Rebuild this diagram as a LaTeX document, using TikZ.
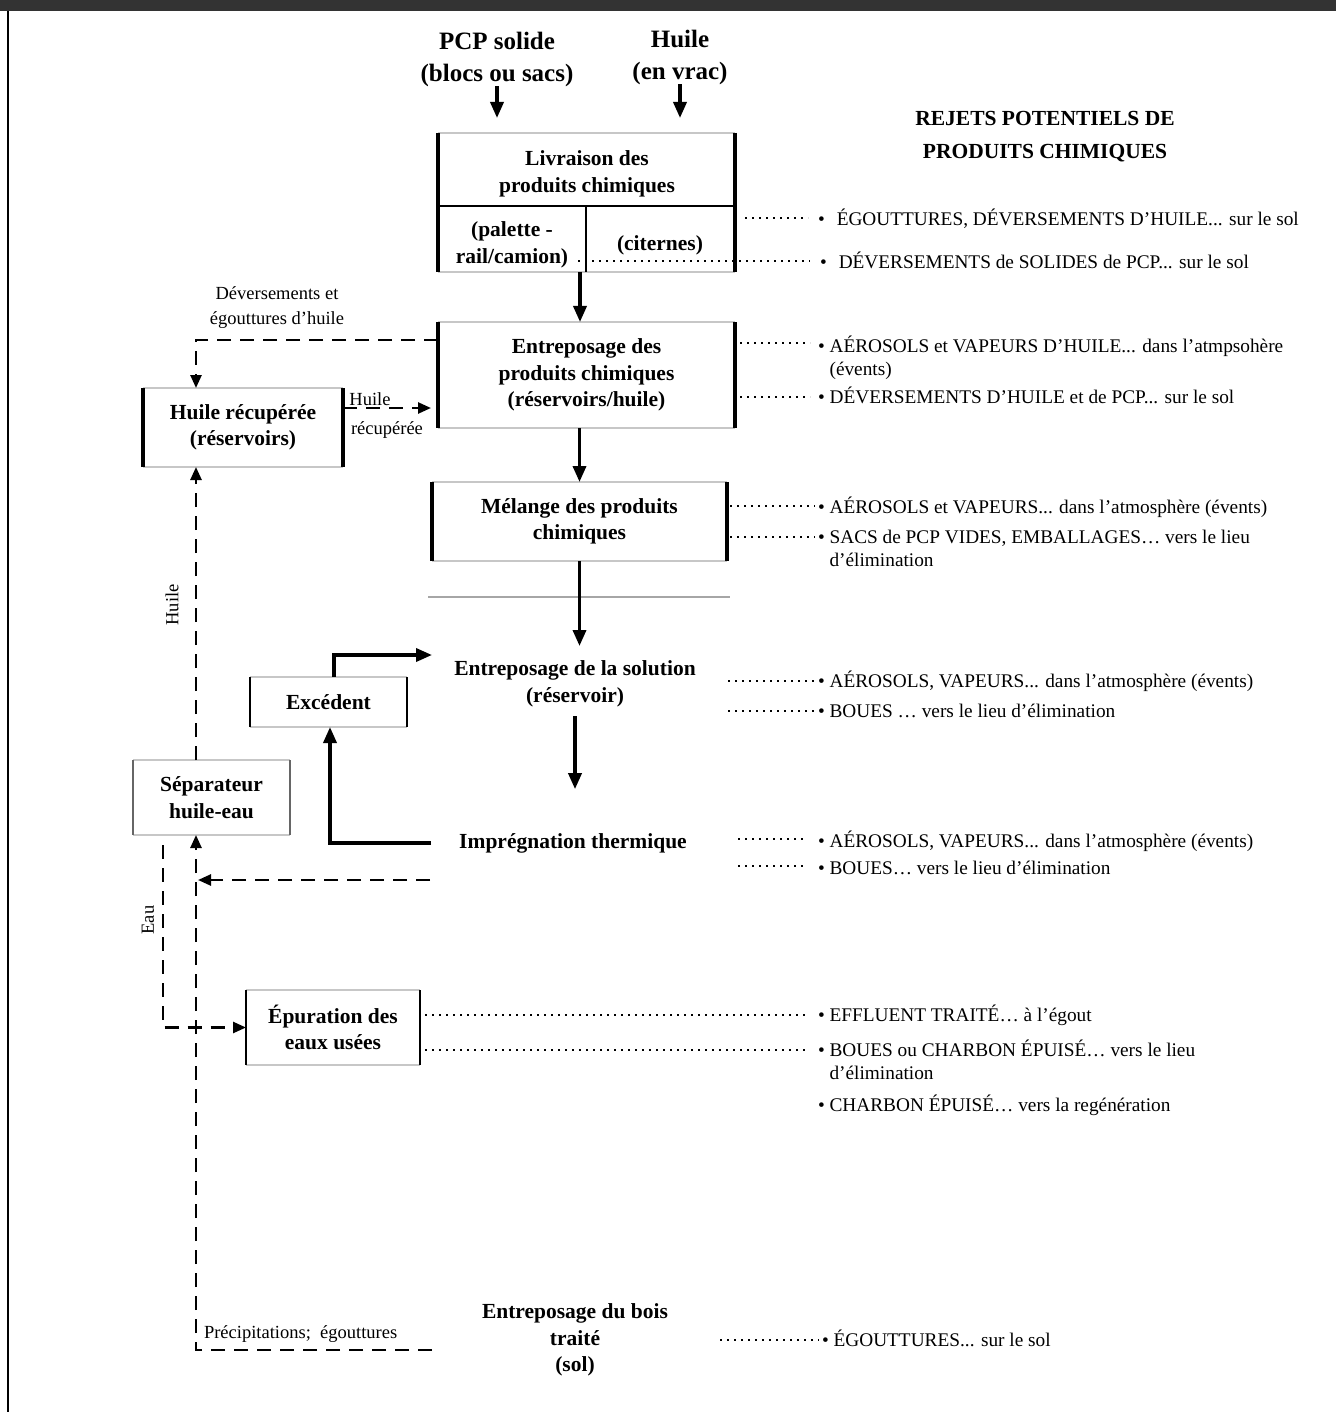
\documentclass[tikz,border=0pt]{standalone}
\usepackage{fontspec}
\setmainfont{Liberation Serif}
\usetikzlibrary{arrows.meta}

% sides of a process box: light top/bottom rules, heavier left/right rules
\newcommand\panelsides[4]{%
  \draw[line width=1.2pt, draw=black!22] (#1.north west) -- (#1.north east) (#1.south west) -- (#1.south east);
  \draw[line width=#2, draw=#4] (#1.north west) -- (#1.south west);
  \draw[line width=#3, draw=#4] (#1.north east) -- (#1.south east);}

% one release item with its dotted leader
% #1 name, #2 leader start x, #3 leader y, #4 gap before bullet, #5 bullet x, #6 baseline y, #7 text
\newcommand\release[7]{%
  \node[item] (#1) at (#5,#6) {#7};
  \coordinate (#1s) at (#2,#3);
  \draw[dots, shorten >=#4] (#1s) -- (#1s -| #1.west);}

\newcommand\twolines[2]{\begin{tabular}[t]{@{}l@{}}#1\\#2\end{tabular}}

\begin{document}
\begin{tikzpicture}[x=1pt,y=-1pt,
  every node/.style={inner sep=0pt, outer sep=0pt},
  panel/.style 2 args={minimum width=#1, minimum height=#2},
  boxtext/.style={font=\fontsize{21.5}{26.5}\selectfont\bfseries, align=center},
  headtext/.style={font=\fontsize{25}{32}\selectfont\bfseries, align=center},
  item/.style={anchor=base west, font=\fontsize{19.3}{23}\selectfont},
  note/.style={font=\fontsize{18.5}{25}\selectfont, align=center},
  flow/.style={line width=3.5pt, -{Triangle[length=16pt,width=13pt]}},
  dflow/.style={line width=2.5pt, dash pattern=on 14pt off 9pt, -{Triangle[length=13pt,width=11pt]}},
  dots/.style={line width=2.4pt, dash pattern=on 2pt off 5pt},
]
\useasboundingbox (0,0) rectangle (1336,1412);
\fill[black!80] (0,0) rectangle (1336,11);
\draw[line width=1.5pt] (8,11) -- (8,1412);

% inputs and heading
\node[headtext] (pcp) at (497,59) {PCP solide\\(blocs ou sacs)};
\node[headtext] (oil) at (680,57) {Huile\\(en vrac)};
\node[font=\fontsize{21.5}{33}\selectfont\bfseries, align=center] (rejets) at (1045,137) {REJETS POTENTIELS DE\\PRODUITS CHIMIQUES};

% delivery box
\node[panel={297}{139}] (liv) at (586.5,202.5) {};
\node[boxtext] (livT) at (587,174) {Livraison des\\produits chimiques};
\node[boxtext] (livA) at (512,245) {(palette -\\rail/camion)};
\node[boxtext] (livB) at (660,245) {(citernes)};
\panelsides{liv}{4pt}{4pt}{black}
\coordinate (livsep) at (586,206);
\draw[line width=2pt] (liv.west |- livsep) -- (liv.east |- livsep);
\draw[line width=1.5pt] (livsep) -- (livsep |- liv.south);

% process boxes
\node[panel={297}{106}, boxtext] (ent) at (586.5,375) {Entreposage des\\produits chimiques\\(réservoirs/huile)};
\node[panel={295}{79}, boxtext] (mel) at (579.5,521.5) {Mélange des produits\\chimiques};
\node[panel={200}{79}, boxtext] (hr) at (243,427.5) {Huile récupérée\\(réservoirs)};
\node[panel={157}{50}, boxtext] (exc) at (328.5,702) {Excédent};
\node[panel={157}{75}, boxtext] (sep) at (211.5,797.5) {Séparateur\\huile-eau};
\node[panel={174}{75}, boxtext] (epu) at (333,1027.5) {Épuration des\\eaux usées};
\panelsides{ent}{4pt}{4pt}{black}
\panelsides{mel}{4pt}{4pt}{black}
\panelsides{hr}{4pt}{4pt}{black}
\panelsides{exc}{1.5pt}{2.5pt}{black}
\panelsides{sep}{1.5pt}{1.5pt}{black!60}
\panelsides{epu}{1.8pt}{1.8pt}{black}

% unboxed stages
\node[boxtext] (sol) at (575,684) {Entreposage de la solution\\(réservoir)};
\node[boxtext] (imp) at (573,843) {Imprégnation thermique};
\node[boxtext] (bois) at (575,1340) {Entreposage du bois\\traité\\(sol)};

\draw[black!35, line width=1.2pt] (428,597) -- (730,597);

% main flow
\draw[flow, shorten >=15pt] (pcp.south) -- (pcp.south |- liv.north);
\draw[flow, shorten >=15pt] (oil.south) -- (oil.south |- liv.north);
\draw[flow] ([xshift=-6.5pt]liv.south) -- ([xshift=-6.5pt]ent.north);
\draw[flow] (ent.south -| mel.north) -- (mel.north);
\draw[flow, shorten >=15pt] (mel.south) -- (mel.south |- sol.north);
\draw[flow, shorten <=9pt, shorten >=44pt] (sol.south) -- (sol.south |- imp.north);

% surplus loop
\coordinate (excin) at (432,655);
\draw[flow] ([xshift=5.5pt]exc.north) |- (excin);
\draw[flow] ([xshift=-28pt]imp.west) -| ([xshift=1.5pt]exc.south);

% recovered oil and water circuit
\draw[dflow] ([yshift=-18pt]ent.north west) -| ([xshift=-47pt]hr.north);
\coordinate (hrout) at ([yshift=19.5pt]hr.east);
\draw[dflow, shorten >=7pt] (hrout) -- (hrout -| ent.west);
\coordinate (sepTop) at ([xshift=-15.5pt]sep.north);
\coordinate (sepBot) at ([xshift=-15.5pt]sep.south);
\draw[dflow] (sepTop) -- (sepTop |- hr.south);
\coordinate (impL) at (430,880);
\draw[dflow, shorten >=2pt] (impL) -- (impL -| sepBot);
\coordinate (boisL) at (432,1350);
\draw[dflow] (boisL) -| (sepBot);
\coordinate (eauTop) at ([xshift=-48.5pt, yshift=-10pt]sep.south);
\draw[dflow] (eauTop) |- (epu.west);

% flow labels
\node[note] (spill) at (277,308) {Déversements et\\égouttures d’huile};
\node[note] (hrlab1) at (370,399) {Huile};
\node[note] (hrlab2) at (387,430) {récupérée};
\node[note, rotate=90] (oillab) at (172,605) {Huile};
\node[note, rotate=90] (eaulab) at (148,920) {Eau};
\node[note, anchor=west] (preclab) at (204,1334) {Précipitations;\ \ égouttures};

% potential releases
\release{r1}{745}{218}{10pt}{818}{226}{\textbullet\hspace{12pt}ÉGOUTTURES, DÉVERSEMENTS D’HUILE... sur le sol}
\release{r2}{578}{261}{10pt}{820}{269}{\textbullet\hspace{12pt}DÉVERSEMENTS de SOLIDES de PCP... sur le sol}
\release{r3}{740}{343}{8pt}{818}{352}{\textbullet\ \twolines{AÉROSOLS et VAPEURS D’HUILE... dans l’atmpsohère}{(évents)}}
\release{r4}{740}{397}{8pt}{818}{403}{\textbullet\ DÉVERSEMENTS D’HUILE et de PCP... sur le sol}
\release{r5}{730}{506}{3pt}{818}{513}{\textbullet\ AÉROSOLS et VAPEURS... dans l’atmosphère (évents)}
\release{r6}{730}{537}{3pt}{818}{543}{\textbullet\ \twolines{SACS de PCP VIDES, EMBALLAGES… vers le lieu}{d’élimination}}
\release{r7}{728}{681}{3pt}{818}{687}{\textbullet\ AÉROSOLS, VAPEURS... dans l’atmosphère (évents)}
\release{r8}{728}{711}{3pt}{818}{717}{\textbullet\ BOUES … vers le lieu d’élimination}
\release{r9}{738}{839}{12pt}{818}{847}{\textbullet\ AÉROSOLS, VAPEURS... dans l’atmosphère (évents)}
\release{r10}{738}{866}{12pt}{818}{874}{\textbullet\ BOUES… vers le lieu d’élimination}
\release{r11}{425}{1015}{12pt}{818}{1021}{\textbullet\ EFFLUENT TRAITÉ… à l’égout}
\release{r12}{425}{1050}{12pt}{818}{1056}{\textbullet\ \twolines{BOUES ou CHARBON ÉPUISÉ… vers le lieu}{d’élimination}}
\node[item] (r13) at (818,1111) {\textbullet\ CHARBON ÉPUISÉ… vers la regénération};
\release{r14}{720}{1340}{3pt}{822}{1346}{\textbullet\ ÉGOUTTURES... sur le sol}
\end{tikzpicture}
\end{document}
